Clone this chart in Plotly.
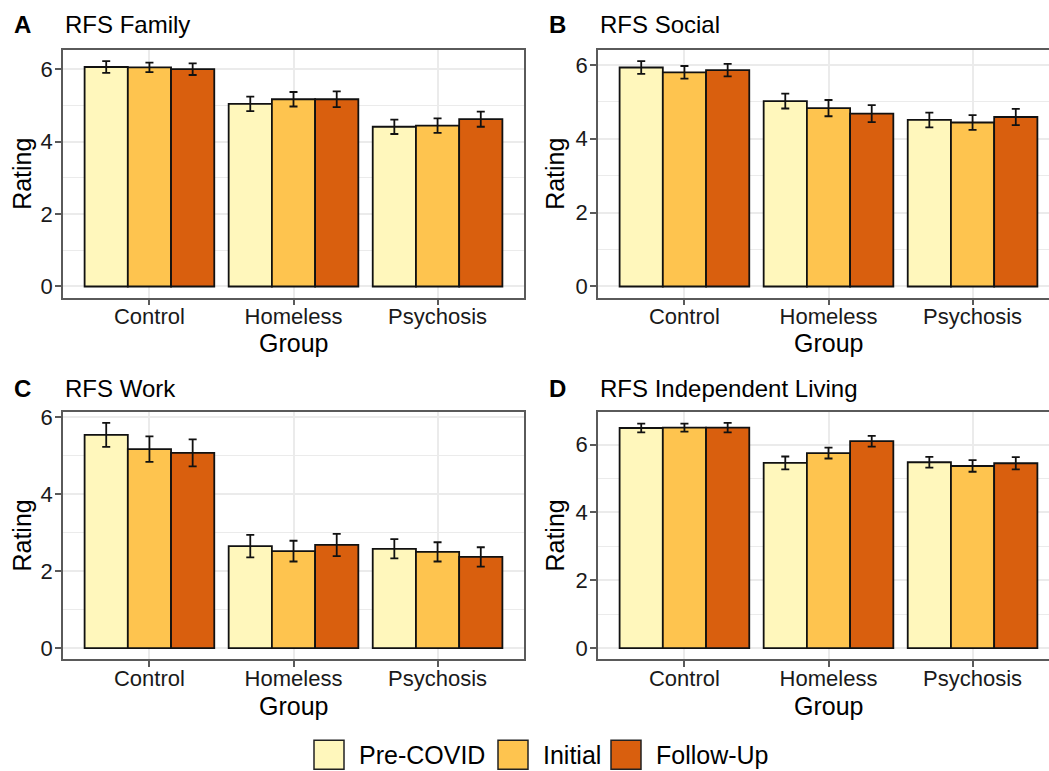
import plotly.graph_objects as go

W, H = 1049, 771

groups = ["Control", "Homeless", "Psychosis"]
series = ["Pre-COVID", "Initial", "Follow-Up"]
colors = ["#FFF7BC", "#FEC44F", "#D95F0E"]
panel_tags = ["A", "B", "C", "D"]
panel_titles = ["RFS Family", "RFS Social", "RFS Work", "RFS Independent Living"]
y_ticks = [0, 2, 4, 6]

# means per panel, per series (order: Control, Homeless, Psychosis)
family_pre = [6.06, 5.04, 4.41]
family_init = [6.05, 5.17, 4.44]
family_fu = [6.00, 5.17, 4.62]
family_pre_se = [0.16, 0.20, 0.20]
family_init_se = [0.13, 0.20, 0.20]
family_fu_se = [0.16, 0.22, 0.21]

social_pre = [5.93, 5.02, 4.51]
social_init = [5.80, 4.83, 4.44]
social_fu = [5.86, 4.68, 4.59]
social_pre_se = [0.17, 0.20, 0.20]
social_init_se = [0.17, 0.22, 0.20]
social_fu_se = [0.17, 0.23, 0.22]

work_pre = [5.54, 2.65, 2.58]
work_init = [5.17, 2.52, 2.50]
work_fu = [5.07, 2.68, 2.37]
work_pre_se = [0.31, 0.29, 0.25]
work_init_se = [0.33, 0.27, 0.25]
work_fu_se = [0.35, 0.29, 0.25]

indep_pre = [6.49, 5.46, 5.48]
indep_init = [6.50, 5.75, 5.37]
indep_fu = [6.50, 6.10, 5.45]
indep_pre_se = [0.13, 0.19, 0.16]
indep_init_se = [0.12, 0.16, 0.17]
indep_fu_se = [0.14, 0.16, 0.18]

panels = [
    ([family_pre, family_init, family_fu], [family_pre_se, family_init_se, family_fu_se]),
    ([social_pre, social_init, social_fu], [social_pre_se, social_init_se, social_fu_se]),
    ([work_pre, work_init, work_fu], [work_pre_se, work_init_se, work_fu_se]),
    ([indep_pre, indep_init, indep_fu], [indep_pre_se, indep_init_se, indep_fu_se]),
]

FONT = "Liberation Sans, Arial, Helvetica, sans-serif"
TXT = "#1a1a1a"
BORDER = "#5a5a5a"
GRID = "#EBEBEB"


def px_x(p):
    return p / W


def px_y(p):
    q = (p - 7) / 0.9905
    return 1 - q / H


left_cols = (63, 524)
right_cols = (598, W)
row1 = (50, 298)
row2 = (412, 660)
unit = (524 - 63) / 3.2
geo = [
    (left_cols, row1, 2.6, True),
    (right_cols, row1, -0.6 + (W - 598) / unit, False),
    (left_cols, row2, 2.6, True),
    (right_cols, row2, -0.6 + (W - 598) / unit, False),
]

fig = go.Figure()
layout = {}
annotations = []
shapes = []

for i, ((means, ses), (cols, rows, xr, full)) in enumerate(zip(panels, geo)):
    n = "" if i == 0 else str(i + 1)
    xa, ya = "x" + n, "y" + n
    for s in range(3):
        fig.add_trace(go.Bar(
            x=groups, y=means[s], name=series[s],
            xaxis=xa, yaxis=ya, showlegend=False,
            offsetgroup=str(s),
            marker=dict(color=colors[s], line=dict(color="#111111", width=1.8)),
            error_y=dict(type="data", array=ses[s], visible=True,
                         color="#111111", thickness=1.8, width=4),
        ))
    ymax = max(m + e for ms, es in zip(means, ses) for m, e in zip(ms, es))
    layout["xaxis" + n] = dict(
        domain=[px_x(cols[0]), px_x(cols[1])], anchor=ya,
        type="category", categoryorder="array", categoryarray=groups,
        range=[-0.6, xr], showgrid=True, gridcolor=GRID, gridwidth=1.8,
        showline=True, linecolor=BORDER, linewidth=1.5, mirror=True,
        ticks="outside", ticklen=6, tickwidth=1.5, tickcolor=BORDER,
        ticklabelstandoff=-8,
        tickfont=dict(family=FONT, size=22, color=TXT), zeroline=False,
        fixedrange=True,
    )
    layout["yaxis" + n] = dict(
        domain=[px_y(rows[1]), px_y(rows[0])], anchor=xa,
        range=[-0.05 * ymax, 1.05 * ymax], tickvals=y_ticks,
        showgrid=True, gridcolor=GRID, gridwidth=1.8,
        minor=dict(dtick=1, tick0=0, showgrid=True, gridcolor=GRID, gridwidth=1),
        showline=True, linecolor=BORDER, linewidth=1.5, mirror=full,
        ticks="outside", ticklen=6, tickwidth=1.5, tickcolor=BORDER,
        ticklabelstandoff=-2,
        tickfont=dict(family=FONT, size=22, color=TXT), zeroline=False,
        fixedrange=True,
    )
    title_y = 25 if rows == row1 else 389
    tag_x = 12 if cols == left_cols else 547
    annotations.append(dict(text="<b>" + panel_tags[i] + "</b>", x=px_x(tag_x), y=px_y(title_y),
                            xref="paper", yref="paper", xanchor="left", yanchor="middle",
                            showarrow=False, font=dict(family=FONT, size=24, color="black")))
    annotations.append(dict(text=panel_titles[i], x=px_x(cols[0]), y=px_y(title_y),
                            xref="paper", yref="paper", xanchor="left", yanchor="middle",
                            showarrow=False, font=dict(family=FONT, size=24, color="black")))
    rating_x = 22 if cols == left_cols else 555
    annotations.append(dict(text="Rating", x=px_x(rating_x), y=px_y((rows[0] + rows[1]) / 2),
                            xref="paper", yref="paper", xanchor="center", yanchor="middle",
                            textangle=-90, showarrow=False,
                            font=dict(family=FONT, size=25, color="black")))
    group_x = cols[0] + (524 - 63) / 2
    group_y = 343 if rows == row1 else 707
    annotations.append(dict(text="Group", x=px_x(group_x), y=px_y(group_y),
                            xref="paper", yref="paper", xanchor="center", yanchor="middle",
                            showarrow=False, font=dict(family=FONT, size=25, color="black")))

# legend (drawn manually to match the large ggplot keys)
key_left = [314, 498, 611]
text_left = [357, 541, 654]
for s in range(3):
    shapes.append(dict(type="rect", xref="paper", yref="paper",
                       x0=px_x(key_left[s]), x1=px_x(key_left[s] + 30),
                       y0=px_y(770), y1=px_y(741),
                       fillcolor=colors[s], line=dict(color="#222222", width=1.5)))
    annotations.append(dict(text=series[s], x=px_x(text_left[s]), y=px_y(756),
                            xref="paper", yref="paper", xanchor="left", yanchor="middle",
                            showarrow=False, font=dict(family=FONT, size=25, color="black")))

fig.update_layout(
    width=W, height=H, autosize=False,
    margin=dict(l=0, r=0, t=0, b=0),
    paper_bgcolor="white", plot_bgcolor="white",
    barmode="group", bargap=0.1, bargroupgap=0,
    annotations=annotations, shapes=shapes,
    font=dict(family=FONT),
    **layout,
)

fig.write_html("out.html", config={"displayModeBar": False},
               post_script="document.body.style.margin='0';")
